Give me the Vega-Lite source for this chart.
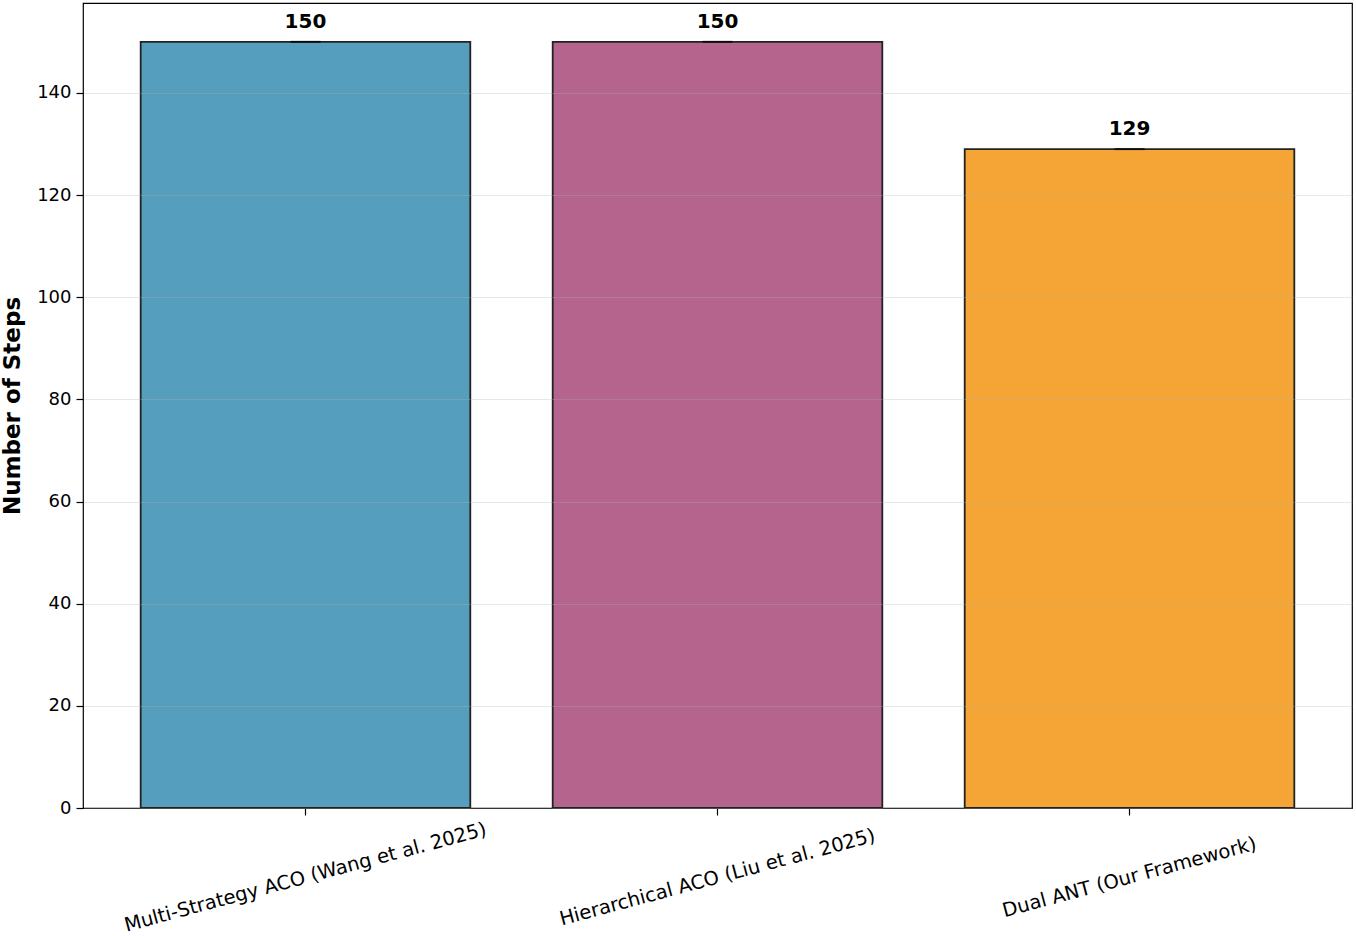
{
  "$schema": "https://vega.github.io/schema/vega-lite/v6.json",
  "width": 1269,
  "height": 805,
  "autosize": {"type": "none"},
  "padding": {"left": 83, "top": 3, "right": 4, "bottom": 128},
  "background": "white",
  "config": {
    "font": "DejaVu Sans",
    "view": {"stroke": "#000000", "strokeWidth": 1.2}
  },
  "data": {
    "values": [
      {"method": "Multi-Strategy ACO (Wang et al. 2025)", "steps": 150},
      {"method": "Hierarchical ACO (Liu et al. 2025)", "steps": 150},
      {"method": "Dual ANT (Our Framework)", "steps": 129}
    ]
  },
  "encoding": {
    "x": {
      "field": "method",
      "type": "nominal",
      "sort": null,
      "scale": {"paddingInner": 0.2, "paddingOuter": 0.14},
      "axis": {
        "title": null,
        "labelAngle": -15,
        "labelAlign": "center",
        "labelBaseline": "middle",
        "labelFontSize": 19.5,
        "labelColor": "#000000",
        "labelPadding": 62,
        "labelLimit": 0,
        "labelOverlap": false,
        "tickColor": "#000000",
        "tickSize": 7,
        "tickWidth": 1.2,
        "domain": false,
        "grid": false
      }
    },
    "y": {
      "field": "steps",
      "type": "quantitative",
      "scale": {"domain": [0, 157.6], "nice": false, "zero": true},
      "axis": {
        "title": "Number of Steps",
        "titleFontSize": 23,
        "titleFontWeight": "bold",
        "titleColor": "#000000",
        "titlePadding": 12,
        "values": [0, 20, 40, 60, 80, 100, 120, 140],
        "labelFontSize": 18,
        "labelColor": "#000000",
        "labelPadding": 5,
        "tickColor": "#000000",
        "tickSize": 7,
        "tickWidth": 1.2,
        "domain": false,
        "grid": true,
        "gridColor": "#b0b0b0",
        "gridOpacity": 0.3,
        "gridWidth": 1,
        "zindex": 1
      }
    }
  },
  "layer": [
    {
      "mark": {"type": "bar", "stroke": "#222222", "strokeWidth": 1.8},
      "encoding": {
        "color": {
          "field": "method",
          "type": "nominal",
          "sort": null,
          "scale": {
            "domain": ["Multi-Strategy ACO (Wang et al. 2025)", "Hierarchical ACO (Liu et al. 2025)", "Dual ANT (Our Framework)"],
            "range": ["#569EBD", "#B4648D", "#F4A535"]
          },
          "legend": null
        }
      }
    },
    {
      "mark": {"type": "tick", "color": "#000000", "size": 30, "thickness": 2, "orient": "horizontal"},
      "encoding": {}
    },
    {
      "mark": {"type": "text", "fontWeight": "bold", "fontSize": 20, "baseline": "alphabetic", "dy": -14, "color": "#000000"},
      "encoding": {"text": {"field": "steps", "type": "quantitative"}}
    }
  ]
}
